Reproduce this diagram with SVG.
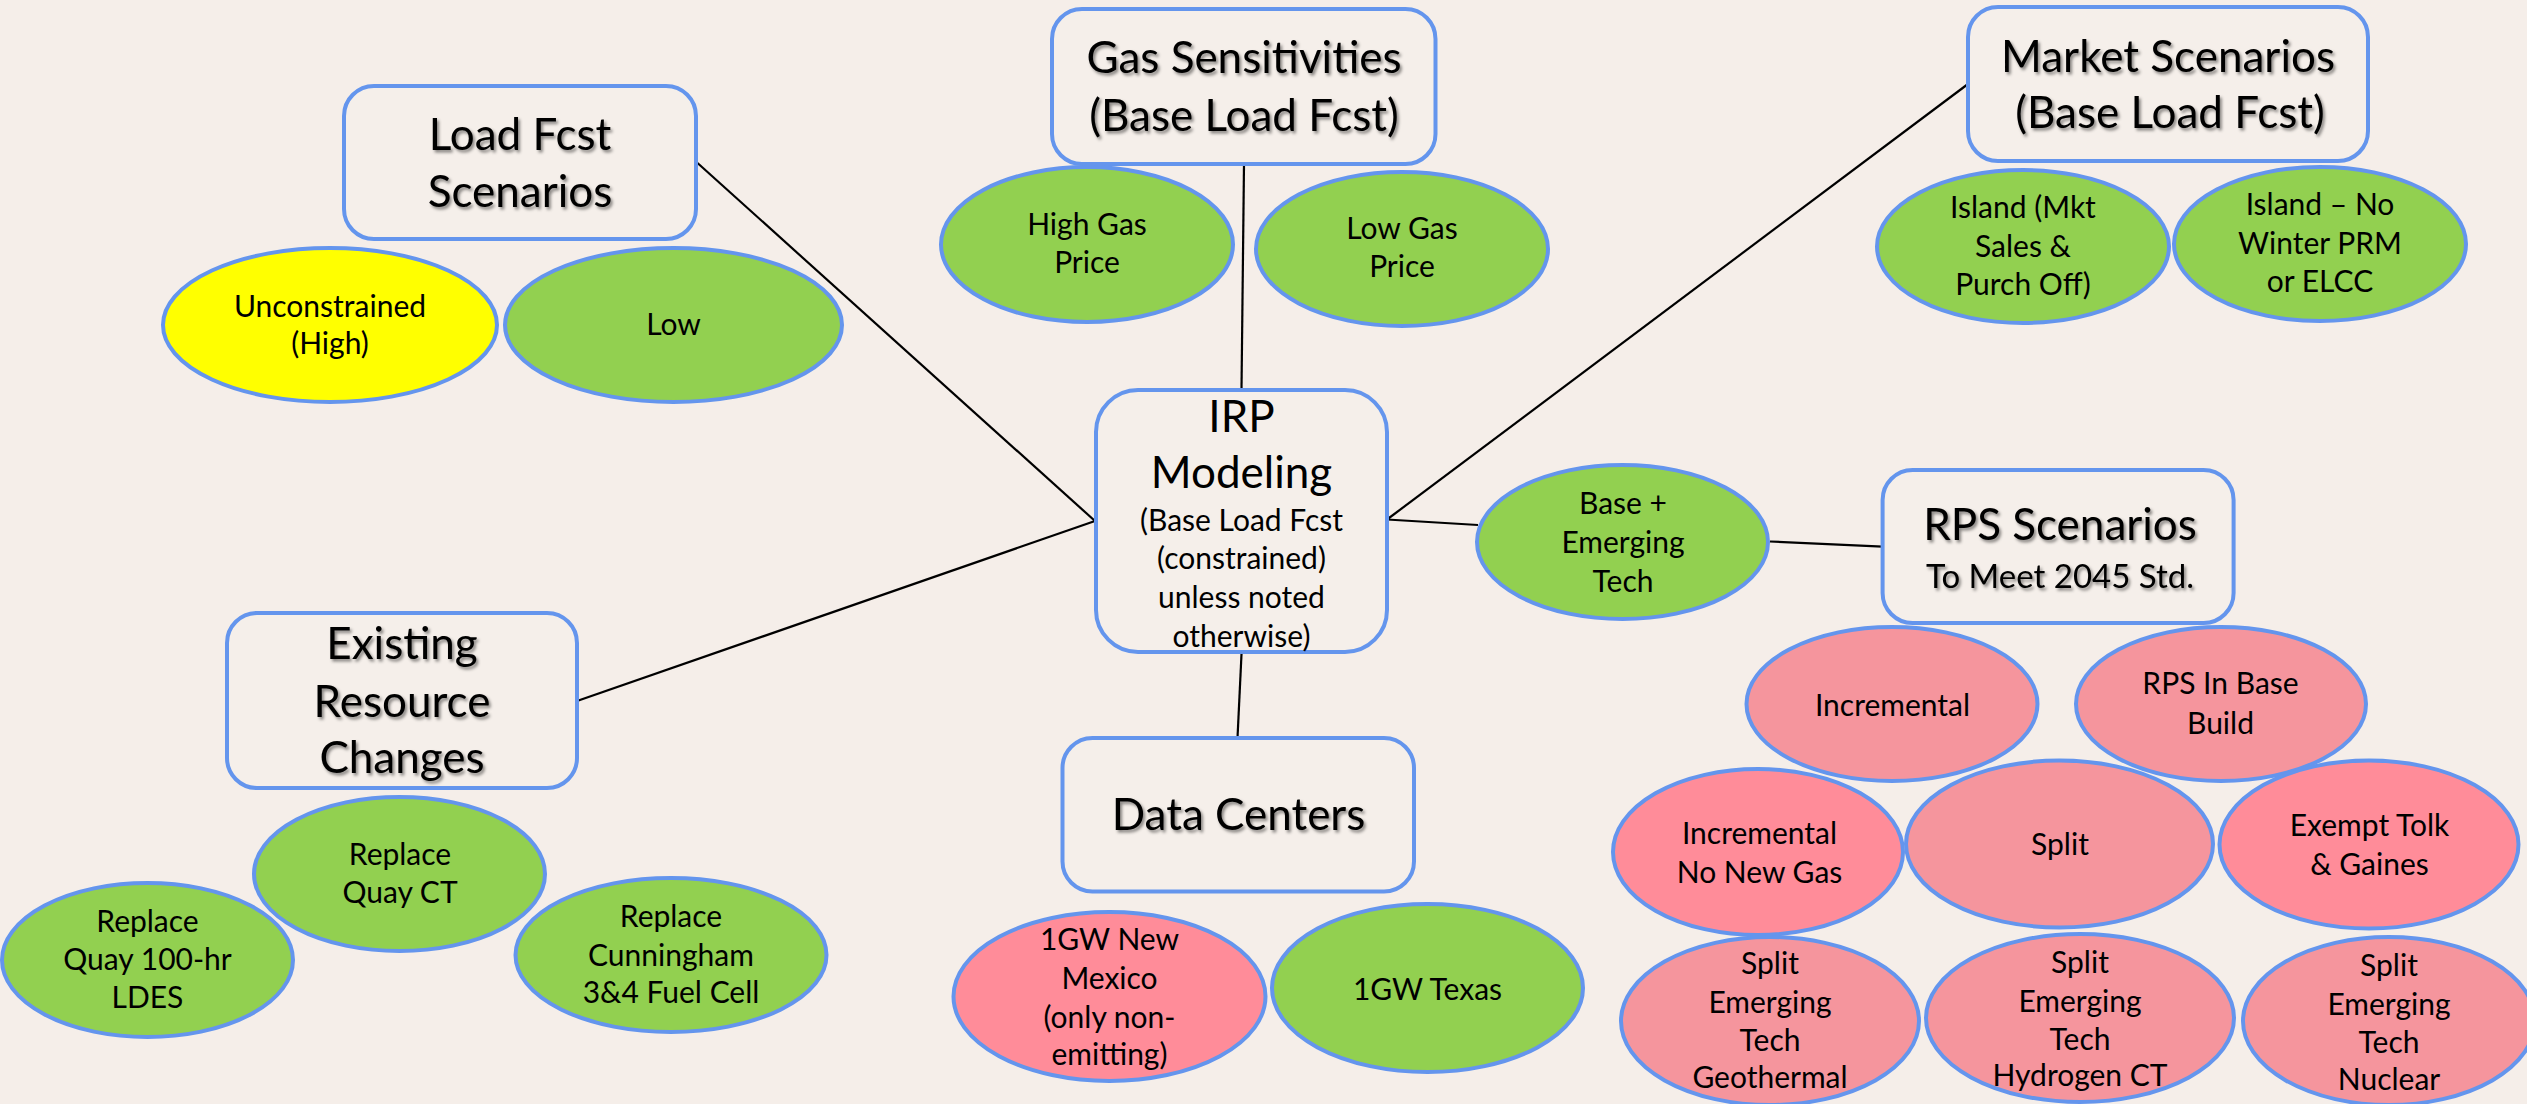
<svg xmlns="http://www.w3.org/2000/svg" width="2527" height="1104" viewBox="0 0 2527 1104">
  <defs>
    <filter id="shadow" x="-10%" y="-20%" width="120%" height="150%">
      <feDropShadow dx="2" dy="2.5" stdDeviation="1.5" flood-color="#000" flood-opacity="0.45"/>
    </filter>
  </defs>
  <style>
    .box { fill: #F5EFEA; stroke: #6495ED; stroke-width: 4; }
    .ell { stroke: #6495ED; stroke-width: 4; }
    .green { fill: #92D050; }
    .yellow { fill: #FFFF00; }
    .pink { fill: #F5959D; }
    .rose { fill: #FF8C99; }
    .link { stroke: #000; stroke-width: 2.2; fill: none; }
    text { font-family: Lato, "Noto Sans", "Liberation Sans", sans-serif; fill: #000; text-anchor: middle; }
    .head { font-size: 44px; filter: url(#shadow); }
    .sub { font-size: 33px; filter: url(#shadow); }
    .big { font-size: 44px; }
    .lbl { font-size: 30px; }
  </style>
  <rect width="2527" height="1104" fill="#F5EEE9"/>

  <!-- connectors -->
  <g id="connectors">
    <line class="link" x1="697.5" y1="163" x2="1095" y2="521"/>
    <line class="link" x1="577" y1="701" x2="1095" y2="521"/>
    <line class="link" x1="1244" y1="164" x2="1241.5" y2="390"/>
    <line class="link" x1="1387" y1="519.5" x2="1968" y2="84"/>
    <line class="link" x1="1387" y1="519.5" x2="1478" y2="525"/>
    <line class="link" x1="1770" y1="541.5" x2="1882.6" y2="546.7"/>
    <line class="link" x1="1241.6" y1="652" x2="1237.5" y2="738"/>
  </g>

  <!-- central node -->
  <g id="irp-modeling">
    <rect class="box" x="1096" y="390" width="291" height="262" rx="42"/>
    <text class="big" x="1241.5" y="432">IRP</text>
    <text class="big" x="1241.5" y="488">Modeling</text>
    <text class="lbl" x="1241.5" y="531">(Base Load Fcst</text>
    <text class="lbl" x="1241.5" y="569">(constrained)</text>
    <text class="lbl" x="1241.5" y="608">unless noted</text>
    <text class="lbl" x="1241.5" y="647">otherwise)</text>
  </g>

  <!-- load forecast branch -->
  <g id="load-fcst">
    <rect class="box" x="344" y="86" width="352" height="153" rx="30"/>
    <text class="head" x="520" y="150">Load Fcst</text>
    <text class="head" x="520" y="207">Scenarios</text>
  </g>
  <g id="load-unconstrained">
    <ellipse class="ell yellow" cx="330" cy="325" rx="167" ry="77"/>
    <text class="lbl" x="330" y="317">Unconstrained</text>
    <text class="lbl" x="330" y="354">(High)</text>
  </g>
  <g id="load-low">
    <ellipse class="ell green" cx="673.5" cy="325" rx="168.5" ry="77"/>
    <text class="lbl" x="673.5" y="335">Low</text>
  </g>

  <!-- gas branch -->
  <g id="gas-sensitivities">
    <rect class="box" x="1052" y="9" width="383.5" height="155" rx="30"/>
    <text class="head" x="1244" y="73">Gas Sensitivities</text>
    <text class="head" x="1244" y="131">(Base Load Fcst)</text>
  </g>
  <g id="gas-high">
    <ellipse class="ell green" cx="1087" cy="244.5" rx="146" ry="77.5"/>
    <text class="lbl" x="1087" y="235">High Gas</text>
    <text class="lbl" x="1087" y="273">Price</text>
  </g>
  <g id="gas-low">
    <ellipse class="ell green" cx="1402" cy="249" rx="146" ry="77"/>
    <text class="lbl" x="1402" y="239">Low Gas</text>
    <text class="lbl" x="1402" y="277">Price</text>
  </g>

  <!-- market branch -->
  <g id="market-scenarios">
    <rect class="box" x="1968" y="7" width="400" height="154" rx="30"/>
    <text class="head" x="2168" y="72">Market Scenarios</text>
    <text class="head" x="2170" y="128">(Base Load Fcst)</text>
  </g>
  <g id="market-island">
    <ellipse class="ell green" cx="2023" cy="246.5" rx="146" ry="76.5"/>
    <text class="lbl" x="2023" y="218">Island (Mkt</text>
    <text class="lbl" x="2023" y="257">Sales &amp;</text>
    <text class="lbl" x="2023" y="295">Purch Off)</text>
  </g>
  <g id="market-island-no-prm">
    <ellipse class="ell green" cx="2320" cy="244" rx="146" ry="77"/>
    <text class="lbl" x="2320" y="215">Island – No</text>
    <text class="lbl" x="2320" y="254">Winter PRM</text>
    <text class="lbl" x="2320" y="292">or ELCC</text>
  </g>

  <!-- existing resources branch -->
  <g id="existing-resources">
    <rect class="box" x="227" y="613" width="350" height="175" rx="30"/>
    <text class="head" x="402" y="659">Existing</text>
    <text class="head" x="402" y="717">Resource</text>
    <text class="head" x="402" y="773">Changes</text>
  </g>
  <g id="replace-quay-ct">
    <ellipse class="ell green" cx="399.5" cy="874" rx="145.5" ry="77"/>
    <text class="lbl" x="400" y="865">Replace</text>
    <text class="lbl" x="400" y="903">Quay CT</text>
  </g>
  <g id="replace-quay-ldes">
    <ellipse class="ell green" cx="147.5" cy="960" rx="145.5" ry="77"/>
    <text class="lbl" x="147.5" y="932">Replace</text>
    <text class="lbl" x="147.5" y="970">Quay 100-hr</text>
    <text class="lbl" x="147.5" y="1008">LDES</text>
  </g>
  <g id="replace-cunningham">
    <ellipse class="ell green" cx="671" cy="955" rx="155.5" ry="77"/>
    <text class="lbl" x="671" y="927">Replace</text>
    <text class="lbl" x="671" y="966">Cunningham</text>
    <text class="lbl" x="671" y="1003">3&amp;4 Fuel Cell</text>
  </g>

  <!-- data center branch -->
  <g id="data-centers">
    <rect class="box" x="1062.5" y="738" width="351.5" height="153.5" rx="30"/>
    <text class="head" x="1238.5" y="830">Data Centers</text>
  </g>
  <g id="dc-new-mexico">
    <ellipse class="ell rose" cx="1109.5" cy="996.5" rx="156" ry="84.5"/>
    <text class="lbl" x="1109.5" y="950">1GW New</text>
    <text class="lbl" x="1109.5" y="988.5">Mexico</text>
    <text class="lbl" x="1109.5" y="1027.5">(only non-</text>
    <text class="lbl" x="1109.5" y="1064.5">emitting)</text>
  </g>
  <g id="dc-texas">
    <ellipse class="ell green" cx="1427.5" cy="988" rx="155.5" ry="84"/>
    <text class="lbl" x="1427.5" y="999.5">1GW Texas</text>
  </g>

  <!-- emerging tech / RPS branch -->
  <g id="base-emerging-tech">
    <ellipse class="ell green" cx="1622.5" cy="542" rx="145.5" ry="77"/>
    <text class="lbl" x="1623" y="514">Base +</text>
    <text class="lbl" x="1623" y="553">Emerging</text>
    <text class="lbl" x="1623" y="591.5">Tech</text>
  </g>
  <g id="rps-scenarios">
    <rect class="box" x="1882.6" y="470" width="351" height="153" rx="30"/>
    <text class="head" x="2060" y="539.5">RPS Scenarios</text>
    <text class="sub" x="2060" y="587.5">To Meet 2045 Std.</text>
  </g>
  <g id="rps-incremental">
    <ellipse class="ell pink" cx="1892" cy="704" rx="145.5" ry="77"/>
    <text class="lbl" x="1892.5" y="715.5">Incremental</text>
  </g>
  <g id="rps-in-base-build">
    <ellipse class="ell pink" cx="2221" cy="704" rx="145" ry="77"/>
    <text class="lbl" x="2220.5" y="694">RPS In Base</text>
    <text class="lbl" x="2220.5" y="733.5">Build</text>
  </g>
  <g id="rps-incremental-no-gas">
    <ellipse class="ell rose" cx="1758" cy="852" rx="145" ry="83"/>
    <text class="lbl" x="1759.5" y="844">Incremental</text>
    <text class="lbl" x="1759.5" y="882.5">No New Gas</text>
  </g>
  <g id="rps-split">
    <ellipse class="ell pink" cx="2059.5" cy="844" rx="153.5" ry="83.5"/>
    <text class="lbl" x="2060" y="854.5">Split</text>
  </g>
  <g id="rps-exempt">
    <ellipse class="ell rose" cx="2369" cy="844.5" rx="149.5" ry="84"/>
    <text class="lbl" x="2369.5" y="835.5">Exempt Tolk</text>
    <text class="lbl" x="2369.5" y="874.5">&amp; Gaines</text>
  </g>
  <g id="rps-split-geothermal">
    <ellipse class="ell pink" cx="1770" cy="1021" rx="149" ry="84"/>
    <text class="lbl" x="1770" y="973.5">Split</text>
    <text class="lbl" x="1770" y="1013">Emerging</text>
    <text class="lbl" x="1770" y="1050.5">Tech</text>
    <text class="lbl" x="1770" y="1088">Geothermal</text>
  </g>
  <g id="rps-split-hydrogen">
    <ellipse class="ell pink" cx="2080" cy="1018" rx="154" ry="84"/>
    <text class="lbl" x="2080" y="972.5">Split</text>
    <text class="lbl" x="2080" y="1012">Emerging</text>
    <text class="lbl" x="2080" y="1050">Tech</text>
    <text class="lbl" x="2080" y="1086">Hydrogen CT</text>
  </g>
  <g id="rps-split-nuclear">
    <ellipse class="ell pink" cx="2389" cy="1021" rx="146" ry="84"/>
    <text class="lbl" x="2389" y="975.5">Split</text>
    <text class="lbl" x="2389" y="1015">Emerging</text>
    <text class="lbl" x="2389" y="1052.5">Tech</text>
    <text class="lbl" x="2389" y="1090">Nuclear</text>
  </g>
</svg>
